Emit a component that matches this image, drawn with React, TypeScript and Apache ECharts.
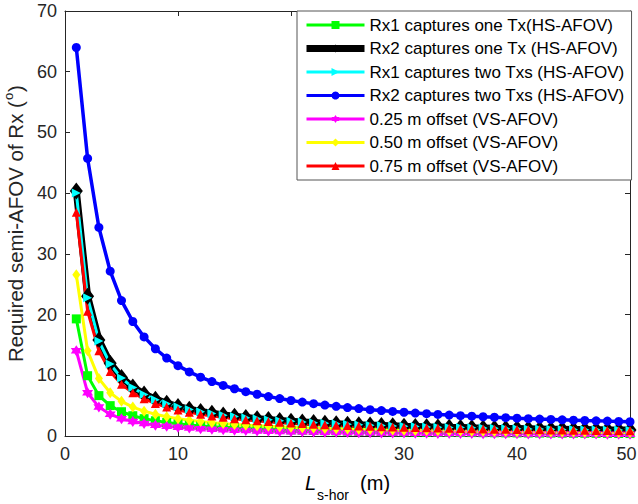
import React, { useEffect, useRef } from "react";
import * as echarts from "echarts";

const L_VALUES = [1,2,3,4,5,6,7,8,9,10,11,12,13,14,15,16,17,18,19,20,21,22,23,24,25,26,27,28,29,30,31,32,33,34,35,36,37,38,39,40,41,42,43,44,45,46,47,48,49,50];

const rx1OneTx = [19.29,9.93,6.65,5.00,4.00,3.34,2.86,2.51,2.23,2.00,1.82,1.67,1.54,1.43,1.34,1.25,1.18,1.11,1.06,1.00,0.95,0.91,0.87,0.84,0.80,0.77,0.74,0.72,0.69,0.67,0.65,0.63,0.61,0.59,0.57,0.56,0.54,0.53,0.51,0.50,0.49,0.48,0.47,0.46,0.45,0.44,0.43,0.42,0.41,0.40];
const rx2OneTx = [40.36,23.03,15.82,12.00,9.65,8.06,6.92,6.07,5.40,4.86,4.42,4.05,3.74,3.47,3.24,3.04,2.86,2.70,2.56,2.43,2.32,2.21,2.12,2.03,1.95,1.87,1.80,1.74,1.68,1.62,1.57,1.52,1.48,1.43,1.39,1.35,1.32,1.28,1.25,1.22,1.19,1.16,1.13,1.11,1.08,1.06,1.04,1.01,0.99,0.97];
const rx1TwoTxs = [40.03,22.78,15.64,11.86,9.54,7.97,6.84,5.99,5.33,4.80,4.37,4.00,3.70,3.43,3.21,3.01,2.83,2.67,2.53,2.41,2.29,2.19,2.09,2.00,1.93,1.85,1.78,1.72,1.66,1.60,1.55,1.50,1.46,1.42,1.38,1.34,1.30,1.27,1.23,1.20,1.17,1.15,1.12,1.09,1.07,1.05,1.02,1.00,0.98,0.96];
const rx2TwoTxs = [63.99,45.71,34.35,27.14,22.30,18.86,16.32,14.37,12.83,11.59,10.56,9.69,8.96,8.33,7.78,7.30,6.88,6.50,6.16,5.85,5.58,5.32,5.09,4.88,4.69,4.51,4.34,4.19,4.04,3.91,3.78,3.67,3.56,3.45,3.35,3.26,3.17,3.09,3.01,2.93,2.86,2.79,2.73,2.67,2.61,2.55,2.50,2.45,2.40,2.35];
const offset025 = [14.04,7.13,4.76,3.58,2.86,2.39,2.05,1.79,1.59,1.43,1.30,1.19,1.10,1.02,0.95,0.90,0.84,0.80,0.75,0.72,0.68,0.65,0.62,0.60,0.57,0.55,0.53,0.51,0.49,0.48,0.46,0.45,0.43,0.42,0.41,0.40,0.39,0.38,0.37,0.36,0.35,0.34,0.33,0.33,0.32,0.31,0.31,0.30,0.29,0.29];
const offset050 = [26.57,14.04,9.46,7.13,5.71,4.76,4.09,3.58,3.18,2.86,2.60,2.39,2.20,2.05,1.91,1.79,1.69,1.59,1.51,1.43,1.36,1.30,1.25,1.19,1.15,1.10,1.06,1.02,0.99,0.95,0.92,0.90,0.87,0.84,0.82,0.80,0.77,0.75,0.73,0.72,0.70,0.68,0.67,0.65,0.64,0.62,0.61,0.60,0.59,0.57];
const offset075 = [36.87,20.56,14.04,10.62,8.53,7.13,6.12,5.36,4.76,4.29,3.90,3.58,3.30,3.07,2.86,2.68,2.53,2.39,2.26,2.15,2.05,1.95,1.87,1.79,1.72,1.65,1.59,1.53,1.48,1.43,1.39,1.34,1.30,1.26,1.23,1.19,1.16,1.13,1.10,1.07,1.05,1.02,1.00,0.98,0.96,0.93,0.91,0.90,0.88,0.86];

const SERIES_NAMES = [
  "Rx1 captures one Tx(HS-AFOV)",
  "Rx2 captures one Tx (HS-AFOV)",
  "Rx1 captures two Txs (HS-AFOV)",
  "Rx2 captures two Txs (HS-AFOV)",
  "0.25 m offset (VS-AFOV)",
  "0.50 m offset (VS-AFOV)",
  "0.75 m offset (VS-AFOV)",
];

const X_TICKS = [0, 10, 20, 30, 40, 50];
const Y_TICKS = [0, 10, 20, 30, 40, 50, 60, 70];

const HEXAGRAM =
  "path://M10 0 L7.11 5 L1.34 5 L4.23 10 L1.34 15 L7.11 15 L10 20 L12.89 15 L18.66 15 L15.77 10 L18.66 5 L12.89 5 Z";

const AX = "#262626";
const FONT = "Liberation Sans, Arial, Helvetica, sans-serif";

export default function App() {
  const ref = useRef<HTMLDivElement>(null);
  useEffect(() => {
    document.body.style.margin = "0";
    if (!ref.current) return;
    const chart = echarts.init(ref.current, null, { renderer: "svg" });
    const pair = (ys: number[]) => L_VALUES.map((x, i) => [x, ys[i]]);
    const styles = [
      { data: rx1OneTx, color: "#00FF00", width: 3, legendWidth: 3, symbol: "rect", size: 9, rotate: 0 },
      { data: rx2OneTx, color: "#000000", width: 7, legendWidth: 7, symbol: "diamond", size: [13, 17], rotate: 0 },
      { data: rx1TwoTxs, color: "#00FFFF", width: 3, legendWidth: 3, symbol: "triangle", size: 9, rotate: -90 },
      { data: rx2TwoTxs, color: "#0000FF", width: 3.5, legendWidth: 3, symbol: "circle", size: 9, rotate: 0 },
      { data: offset025, color: "#FF00FF", width: 3, legendWidth: 3, symbol: HEXAGRAM, size: 11, rotate: 0 },
      { data: offset050, color: "#FFFF00", width: 3, legendWidth: 3, symbol: "diamond", size: [8, 11], rotate: 0 },
      { data: offset075, color: "#FF0000", width: 3, legendWidth: 3, symbol: "triangle", size: 9, rotate: 0 },
    ];
    const series = styles.map((s, i) => ({
      type: "line",
      name: SERIES_NAMES[i],
      data: pair(s.data),
      xAxisIndex: 0,
      yAxisIndex: 0,
      symbol: s.symbol,
      symbolSize: s.size,
      symbolRotate: s.rotate,
      showAllSymbol: true,
      itemStyle: { color: s.color, borderColor: s.color, borderWidth: 0, opacity: 1 },
      lineStyle: { color: s.color, width: s.width },
      emphasis: { disabled: true },
    }));

    const option: any = {
      animation: false,
      backgroundColor: "#ffffff",
      textStyle: { fontFamily: FONT },
      grid: { left: 65, right: 8, top: 11, bottom: 68, containLabel: false, outerBoundsMode: "none" },
      legend: {
        data: SERIES_NAMES.map((name, i) => ({
          name,
          lineStyle: { width: styles[i].legendWidth, color: styles[i].color },
        })),
        orient: "vertical",
        left: 297,
        top: 11,
        padding: [5.5, 7, 5.5, 6],
        itemWidth: 58,
        itemHeight: 10,
        itemGap: 6.5,
        backgroundColor: "#ffffff",
        borderColor: "#555555",
        borderWidth: 1,
        borderRadius: 0,
        selectedMode: false,
        textStyle: { fontSize: 17, color: "#000000", fontFamily: FONT },
      },
      xAxis: [
        {
          type: "value",
          min: 0,
          max: 50,
          interval: 10,
          position: "bottom",
          axisLine: { show: true, onZero: false, lineStyle: { color: AX, width: 1 } },
          axisTick: { show: true, inside: true, length: 5, lineStyle: { color: AX } },
          axisLabel: {
            fontSize: 18,
            color: AX,
            margin: 9,
            fontFamily: FONT,
            formatter: (v: number) =>
              v === 50 ? "{e|50}" : X_TICKS.includes(v) ? String(v) : "",
            rich: {
              e: { fontSize: 18, color: AX, fontFamily: FONT, padding: [0, 7, 0, 0] },
            },
          },
          splitLine: { show: false },
          name: "{i|L}{sub|s-hor}{a|  (m)}",
          nameLocation: "middle",
          nameGap: 37,
          nameTextStyle: {
            rich: {
              i: { fontSize: 20, fontStyle: "italic", color: "#000", fontFamily: FONT, verticalAlign: "top", lineHeight: 20 },
              sub: { fontSize: 14, color: "#000", fontFamily: FONT, verticalAlign: "top", lineHeight: 14, padding: [15, 0, 0, 1] },
              a: { fontSize: 20, color: "#000", fontFamily: FONT, verticalAlign: "top", lineHeight: 20 },
            },
          },
        },
        {
          type: "value",
          min: 0,
          max: 50,
          interval: 10,
          position: "top",
          axisLine: { show: true, onZero: false, lineStyle: { color: AX, width: 1 } },
          axisTick: { show: true, inside: true, length: 5, lineStyle: { color: AX } },
          axisLabel: { show: false },
          splitLine: { show: false },
        },
      ],
      yAxis: [
        {
          type: "value",
          min: 0,
          max: 70,
          interval: 10,
          position: "left",
          axisLine: { show: true, onZero: false, lineStyle: { color: AX, width: 1 } },
          axisTick: { show: true, inside: true, length: 5, lineStyle: { color: AX } },
          axisLabel: {
            fontSize: 18,
            color: AX,
            margin: 8,
            fontFamily: FONT,
            formatter: (v: number) => (Y_TICKS.includes(v) ? String(v) : ""),
          },
          splitLine: { show: false },
          name: "{a|Required semi-AFOV of Rx (}{sup|o}{a|)}",
          nameLocation: "middle",
          nameGap: 34,
          nameRotate: 90,
          nameTextStyle: {
            rich: {
              a: { fontSize: 20.5, color: AX, fontFamily: FONT, lineHeight: 24, verticalAlign: "bottom" },
              sup: { fontSize: 13, color: AX, fontFamily: FONT, lineHeight: 24, verticalAlign: "top", padding: [0, 1, 0, 1] },
            },
          },
        },
        {
          type: "value",
          min: 0,
          max: 70,
          interval: 10,
          position: "right",
          axisLine: { show: true, onZero: false, lineStyle: { color: AX, width: 1 } },
          axisTick: { show: true, inside: true, length: 5, lineStyle: { color: AX } },
          axisLabel: { show: false },
          splitLine: { show: false },
        },
      ],
      series,
    };
    chart.setOption(option);
    return () => chart.dispose();
  }, []);
  return <div ref={ref} style={{ width: 638, height: 504 }} />;
}
